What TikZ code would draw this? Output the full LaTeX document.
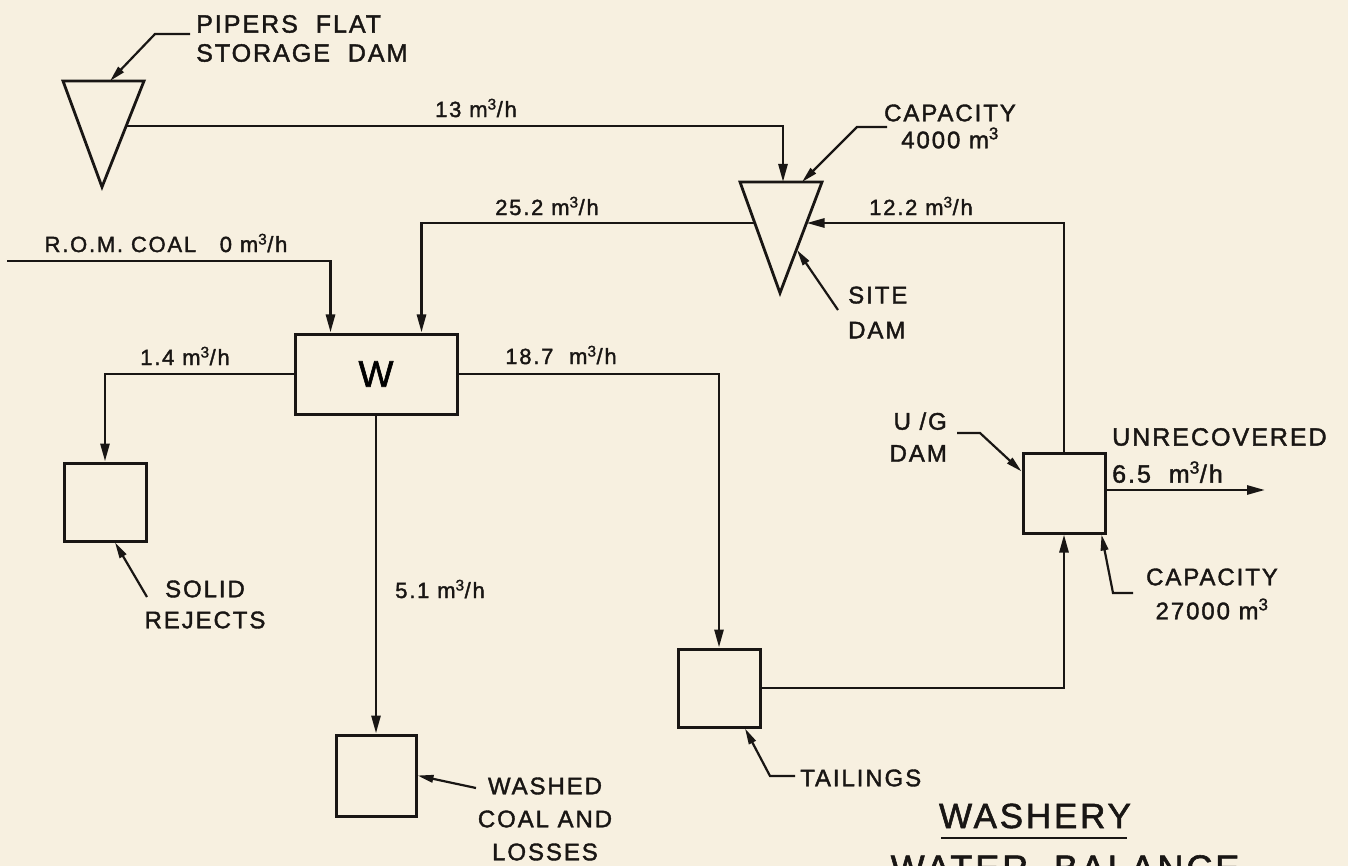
\documentclass[tikz,border=0pt]{standalone}
\usepackage{fontspec}
\setmainfont{Liberation Sans}
\newfontfamily\lett[LetterSpace=8,FakeBold=1.6]{Liberation Sans}
\usetikzlibrary{arrows.meta,calc}
\definecolor{paper}{RGB}{247,240,224}
\definecolor{ink}{RGB}{25,22,20}
\newcommand{\fs}[2]{\lett\fontsize{#1}{#2}\selectfont}
\newcommand{\mh}{m\textsuperscript{3}/h}
\begin{document}
\begin{tikzpicture}[x=1pt,y=-1pt,
  box/.style={draw=ink, line width=3pt, minimum width=82pt, minimum height=80pt, inner sep=0pt},
  flow/.style={draw=ink, line width=2.7pt, -{Triangle[length=18pt,width=9pt]}},
  lead/.style={draw=ink, line width=2.2pt, -{Triangle[length=16pt,width=7.5pt]}},
  dam/.style={draw=ink, line width=2.8pt, line join=miter},
  lab/.style={inner sep=0pt, text=ink, font=\fs{22}{26}},
  ]
\useasboundingbox (0,0) rectangle (1348,866);
\clip (0,0) rectangle (1348,866);
\fill[paper] (0,0) rectangle (1348,866);

% dams (triangles)
\draw[dam] (63,81) -- (144,81) -- (102,187) -- cycle;
\coordinate (ppR) at (126.2,126);
\coordinate (ppTop) at (110,81);
\draw[dam] (740,182) -- (822,182) -- (780,293) -- cycle;
\coordinate (sdTop) at (783,182);
\coordinate (sdTopR) at (802,182);
\coordinate (sdL) at (754.8,223);
\coordinate (sdR) at (806.5,223);
\coordinate (sdSide) at (797,250);

% boxes
\node[box, minimum width=162pt] (W) at (376,374) {\fs{37}{37}W};
\node[box, minimum height=78pt] (SR) at (105,502) {};
\node[box, minimum width=80pt, minimum height=81pt] (WC) at (376,775.5) {};
\node[box, minimum height=78pt] (TL) at (719,688) {};
\node[box] (UG) at (1064,493) {};

% flows
\coordinate (romS) at (7,261);
\coordinate (unrecE) at (1265,490);
\draw[flow] (ppR) -| (sdTop);
\draw[flow] (romS) -| ($(W.north west)+(37,0)$);
\draw[flow] (sdL) -| ($(W.north west)+(128,0)$);
\draw[flow] (W.west) -| (SR.north);
\draw[flow] (W.south) -- (WC.north);
\draw[flow] (W.east) -| (TL.north);
\draw[flow] (TL.east) -| (UG.south);
\draw[flow] (UG.north) |- (sdR);
\draw[flow] (UG.east |- unrecE) -- (unrecE);

% leaders
\coordinate (ppL1) at (190,34); \coordinate (ppL2) at (155,34);
\draw[lead] (ppL1) -- (ppL2) -- (ppTop);
\coordinate (c1L1) at (887,127); \coordinate (c1L2) at (857,127);
\draw[lead] (c1L1) -- (c1L2) -- (sdTopR);
\coordinate (stL) at (838,310);
\draw[lead] (stL) -- (sdSide);
\coordinate (srL) at (147,597);
\draw[lead] (srL) -- ($(SR.south)+(10,0)$);
\coordinate (wcL) at (476,788);
\draw[lead] (wcL) -- (WC.east);
\coordinate (tlL1) at (795,776); \coordinate (tlL2) at (770,776);
\draw[lead] (tlL1) -- (tlL2) -- ($(TL.south)+(26,0)$);
\coordinate (ugL1) at (957,433); \coordinate (ugL2) at (980,433);
\draw[lead] (ugL1) -- (ugL2) -- ($(UG.north west)!0.24!(UG.south west)$);
\coordinate (c2L1) at (1133,593); \coordinate (c2L2) at (1113,593);
\draw[lead] (c2L1) -- (c2L2) -- ($(UG.south east)+(-5,0)$);

% labels
\node[lab, font=\fs{25}{29}, align=left, anchor=west] (ppT) at (196,38.5) {PIPERS\ \ FLAT\\STORAGE\ \ DAM};
\node[lab] (f13) at (476,108) {13 \mh};
\node[lab] (f252) at (547,206) {25.2 \mh};
\node[lab] (f122) at (921,206) {12.2 \mh};
\node[lab] (rom) at (166,243) {R.O.M.\ COAL\ \ \ 0 \mh};
\node[lab] (f14) at (185,356) {1.4 \mh};
\node[lab] (f187) at (561,355) {18.7\ \ \mh};
\node[lab] (f51) at (440,589) {5.1 \mh};
\node[lab, font=\fs{24}{27}, align=center] (cap1) at (950,126.5) {CAPACITY\\4000 m\textsuperscript{3}};
\node[lab, font=\fs{24}{35}, align=left, anchor=west] (site) at (848,312.5) {SITE\\DAM};
\node[lab, font=\fs{24}{32}, align=right, anchor=east] (ugT) at (947,437) {U /G\\DAM};
\node[lab, font=\fs{24}{31}, align=center] (solid) at (205,604.5) {SOLID\\REJECTS};
\node[lab, font=\fs{24}{33}, align=center] (wash) at (545,819) {WASHED\\COAL AND\\LOSSES};
\node[lab, font=\fs{24}{28}, anchor=west] (tail) at (800,778) {TAILINGS};
\node[lab, font=\fs{25}{37}, align=left, anchor=west] (unrec) at (1112,455.5) {UNRECOVERED\\6.5\ \ \mh};
\node[lab, font=\fs{24}{34}, align=center] (cap2) at (1212,594) {CAPACITY\\27000 m\textsuperscript{3}};
\node[lab, font=\fs{35}{38}] (ttl1) at (1035,816) {WASHERY};
\coordinate (ulA) at (941,838); \coordinate (ulB) at (1127,838);
\draw[ink, line width=2.6pt] (ulA) -- (ulB);
\node[lab, font=\fs{36}{40}, anchor=north] (ttl2) at (1065,855) {WATER\ \ BALANCE};
\end{tikzpicture}
\end{document}
